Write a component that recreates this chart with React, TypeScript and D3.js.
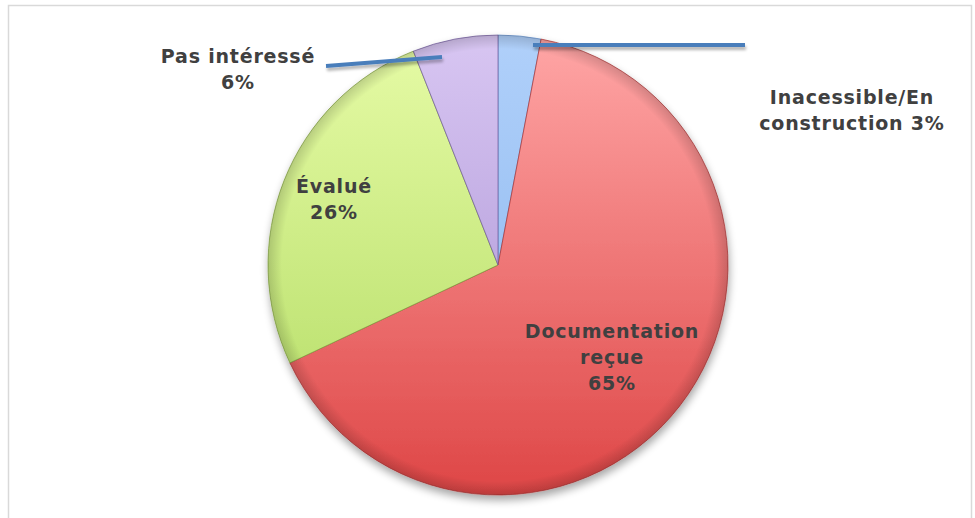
import React from "react";
import * as d3 from "d3";

const categories = ["Inacessible/En construction", "Documentation reçue", "Évalué", "Pas intéressé"];
const values = [3, 65, 26, 6];
const labelLines = [
  ["Inacessible/En", "construction 3%"],
  ["Documentation", "reçue", "65%"],
  ["Évalué", "26%"],
  ["Pas intéressé", "6%"],
];
const gradTop = ["#b0d0fa", "#ffa6a6", "#e6fba6", "#d8c6f2"];
const gradBottom = ["#86b3ec", "#de4646", "#b0da60", "#a48bd0"];
const edge = ["#5c86bf", "#a83232", "#7f9e3f", "#6f5a9a"];

const W = 975;
const H = 518;
const cx = 498;
const cy = 265;
const R = 230;

// label anchor positions (outside labels with leader lines for the small slices)
const labelPos = [
  { x: 852, y: 104 },
  { x: 612, y: 338 },
  { x: 334, y: 193 },
  { x: 238, y: 63 },
];
const leaders = [
  [[533, 45], [745, 45]],
  null,
  null,
  [[442, 57], [326, 66]],
];

export default function App() {
  const pie = d3.pie<number>().sort(null).value((d) => d);
  const arcs = pie(values);
  const arc = d3.arc<d3.PieArcDatum<number>>().innerRadius(0).outerRadius(R);

  return (
    <svg width={W} height={H} style={{ position: "absolute", left: 0, top: 0 }}>
      <defs>
        {values.map((_, i) => (
          <linearGradient key={i} id={`g${i}`} x1="0" y1={-R} x2="0" y2={R} gradientUnits="userSpaceOnUse">
            <stop offset="0" stopColor={gradTop[i]} />
            <stop offset="1" stopColor={gradBottom[i]} />
          </linearGradient>
        ))}
        <radialGradient id="bevel" cx={cx} cy={cy} r={R} gradientUnits="userSpaceOnUse">
          <stop offset="0.94" stopColor="#000" stopOpacity="0" />
          <stop offset="1" stopColor="#000" stopOpacity="0.16" />
        </radialGradient>
        <filter id="shadow" x="-20%" y="-20%" width="140%" height="140%">
          <feGaussianBlur in="SourceAlpha" stdDeviation="4" />
          <feOffset dx="1" dy="5" result="b" />
          <feComponentTransfer>
            <feFuncA type="linear" slope="0.35" />
          </feComponentTransfer>
          <feMerge>
            <feMergeNode />
            <feMergeNode in="SourceGraphic" />
          </feMerge>
        </filter>
        <filter id="lshadow" filterUnits="userSpaceOnUse" x="0" y="0" width={W} height={H}>
          <feGaussianBlur in="SourceAlpha" stdDeviation="1.5" />
          <feOffset dx="1" dy="3" />
          <feComponentTransfer>
            <feFuncA type="linear" slope="0.3" />
          </feComponentTransfer>
          <feMerge>
            <feMergeNode />
            <feMergeNode in="SourceGraphic" />
          </feMerge>
        </filter>
      </defs>
      <rect x={8.5} y={5.5} width={963} height={530} fill="#fff" stroke="#d9d9d9" strokeWidth={1.5} />
      <g filter="url(#shadow)">
        <g transform={`translate(${cx},${cy})`}>
          {arcs.map((a, i) => (
            <path key={i} d={arc(a) || ""} fill={`url(#g${i})`} stroke={edge[i]} strokeWidth={1} strokeOpacity={0.7}>
              <title>{categories[i]}</title>
            </path>
          ))}
        </g>
      </g>
      <circle cx={cx} cy={cy} r={R} fill="url(#bevel)" />
      {leaders.map((l, i) =>
        l ? (
          <line
            key={i}
            x1={l[0][0]}
            y1={l[0][1]}
            x2={l[1][0]}
            y2={l[1][1]}
            stroke="#4a7ebb"
            strokeWidth={4}
            filter="url(#lshadow)"
          />
        ) : null
      )}
      {labelLines.map((lines, i) => (
        <text
          key={i}
          x={labelPos[i].x}
          y={labelPos[i].y}
          textAnchor="middle"
          fontFamily="'DejaVu Sans', sans-serif"
          fontWeight="bold"
          fontSize={19}
          letterSpacing={0.8}
          fill="#404040"
        >
          {lines.map((t, j) => (
            <tspan key={j} x={labelPos[i].x} dy={j === 0 ? 0 : 26}>
              {t}
            </tspan>
          ))}
        </text>
      ))}
    </svg>
  );
}
